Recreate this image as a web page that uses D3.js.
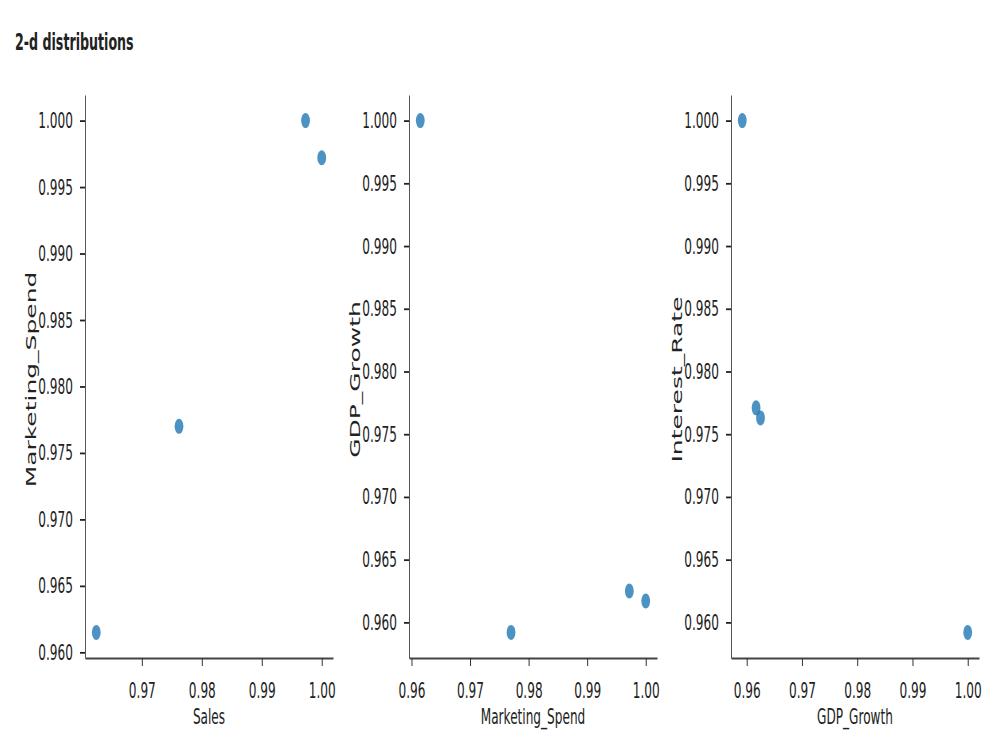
<!DOCTYPE html>
<html>
<head>
	<meta charset="utf-8">
	<script src="https://d3js.org/d3.v7.min.js"></script>
	<title>2-d distributions</title>
	<style>
		body { margin: 0; background: #fff; }
		text { font-family: "DejaVu Sans", sans-serif; fill: #222; }
	</style>
</head>
<body>
	<svg></svg>
	<script>
		// one value per row of the data frame
		const sales          = [1.0000, 0.9973, 0.9624, 0.9762];
		const marketingSpend = [0.9972, 1.0000, 0.9615, 0.9770];
		const gdpGrowth      = [0.9625, 0.9617, 1.0000, 0.9592];
		const interestRate   = [0.9763, 0.9771, 0.9592, 1.0000];

		const xTicks = [0.96, 0.97, 0.98, 0.99, 1.00];
		const yTicks = [0.960, 0.965, 0.970, 0.975, 0.980, 0.985, 0.990, 0.995, 1.000];

		const panels = [
			{xName: "Sales", yName: "Marketing_Spend", x: sales, y: marketingSpend},
			{xName: "Marketing_Spend", yName: "GDP_Growth", x: marketingSpend, y: gdpGrowth},
			{xName: "GDP_Growth", yName: "Interest_Rate", x: gdpGrowth, y: interestRate}
		];

		const width = 1000;
		const height = 750;
		const squeeze = 0.55;   // the picture is narrowed horizontally
		const panelLeft = [85, 409, 731];
		const panelW = 248;
		const plotTop = 95, plotBottom = 658;

		// matplotlib style: data extent plus 5% on each side
		const padded = vals => {
			const [lo, hi] = d3.extent(vals);
			const m = (hi - lo) * 0.05;
			return [lo - m, hi + m];
		};

		const svg = d3.select("svg")
			.attr("width", width)
			.attr("height", height);

		svg.append("text")
			.attr("transform", `translate(15,50) scale(${squeeze},1)`)
			.attr("font-size", 23)
			.attr("font-weight", "bold")
			.attr("fill", "#111")
			.text("2-d distributions");

		panels.forEach((p, i) => {
			const x0 = panelLeft[i];
			const xDom = padded(p.x);
			const yDom = padded(p.y);
			const x = d3.scaleLinear().domain(xDom).range([x0, x0 + panelW]);
			const y = d3.scaleLinear().domain(yDom).range([plotBottom, plotTop]);

			const g = svg.append("g");

			const xAxis = g.append("g")
				.attr("transform", `translate(0,${plotBottom})`)
				.call(d3.axisBottom(x)
					.tickValues(xTicks.filter(t => t >= xDom[0] && t <= xDom[1]))
					.tickFormat(d3.format(".2f"))
					.tickSizeInner(8)
					.tickSizeOuter(0)
					.tickPadding(16));

			const yAxis = g.append("g")
				.attr("transform", `translate(${x0},0)`)
				.call(d3.axisLeft(y)
					.tickValues(yTicks.filter(t => t >= yDom[0] && t <= yDom[1]))
					.tickFormat(d3.format(".3f"))
					.tickSizeInner(5)
					.tickSizeOuter(0)
					.tickPadding(17));

			xAxis.select(".domain").attr("stroke", "#444").attr("stroke-width", 1.8);
			yAxis.select(".domain").attr("stroke", "#555").attr("stroke-width", 1);
			xAxis.selectAll(".tick line").attr("stroke", "#333").attr("stroke-width", 1);
			yAxis.selectAll(".tick line").attr("stroke", "#222").attr("stroke-width", 1.8);

			g.selectAll(".tick text")
				.attr("font-size", 22)
				.attr("font-family", "DejaVu Sans")
				.attr("fill", "#222")
				.attr("transform", `scale(${squeeze},1)`);

			g.append("text")
				.attr("transform", `translate(${x0 + panelW / 2},724) scale(${squeeze},1)`)
				.attr("text-anchor", "middle")
				.attr("font-size", 22)
				.text(p.xName);

			g.append("text")
				.attr("transform", `translate(${x0 - 49},${(plotTop + plotBottom) / 2 + 3}) scale(${squeeze},1) rotate(-90)`)
				.attr("text-anchor", "middle")
				.attr("font-size", 25)
				.text(p.yName);

			g.append("g")
				.selectAll("ellipse")
				.data(d3.range(p.x.length))
				.join("ellipse")
				.attr("cx", k => x(p.x[k]))
				.attr("cy", k => y(p.y[k]))
				.attr("rx", 4.4)
				.attr("ry", 7.5)
				.attr("fill", "#1f77b4")
				.attr("fill-opacity", 0.8);
		});
	</script>
</body>
</html>
